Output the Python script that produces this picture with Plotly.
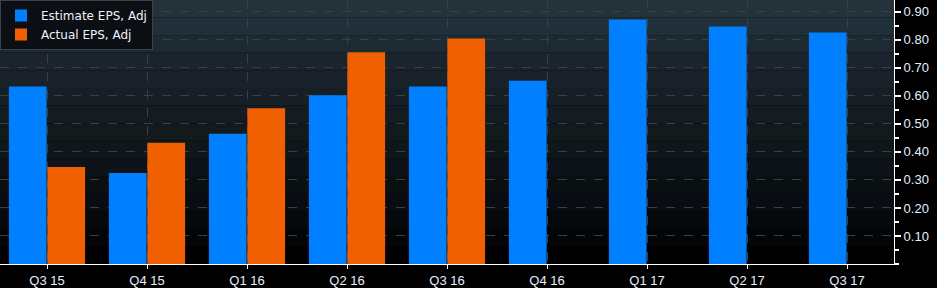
import plotly.graph_objects as go

quarters = ["Q3 15", "Q4 15", "Q1 16", "Q2 16", "Q3 16", "Q4 16", "Q1 17", "Q2 17", "Q3 17"]
estimate_eps = [0.633, 0.325, 0.465, 0.602, 0.633, 0.654, 0.872, 0.847, 0.826]
actual_eps = [0.346, 0.433, 0.556, 0.756, 0.805, None, None, None, None]
y_ticks = [0.1, 0.2, 0.3, 0.4, 0.5, 0.6, 0.7, 0.8, 0.9]

fig = go.Figure()
fig.add_trace(go.Bar(x=quarters, y=estimate_eps, name="Estimate EPS, Adj",
                     marker=dict(color="#0080ff", line=dict(width=0))))
fig.add_trace(go.Bar(x=quarters, y=actual_eps, name="Actual EPS, Adj",
                     marker=dict(color="#f06000", line=dict(width=0))))

# background gradient bands (top dark teal -> black)
band_colors = ["#24333b", "#20303a", "#1d2a33", "#1b232c", "#19222a", "#161f26",
               "#141b22", "#121a1c", "#10171a", "#0d1318", "#0a1012", "#090c12",
               "#05090c", "#030508", "#000000"]
n = len(band_colors)
shapes = []
for i, c in enumerate(band_colors):
    shapes.append(dict(type="rect", xref="paper", yref="paper", x0=0, x1=1,
                       y0=1 - (i + 1) / n, y1=1 - i / n, fillcolor=c,
                       line=dict(width=0), layer="below"))

fig.update_layout(
    width=937, height=288,
    margin=dict(l=0, r=43, t=0, b=20),
    paper_bgcolor="#000000",
    plot_bgcolor="#000000",
    barmode="group",
    bargap=0.23,
    bargroupgap=0.02,
    shapes=shapes,
    font=dict(family="Liberation Sans, Arial, sans-serif", size=13, color="#e6eeff"),
    legend=dict(x=0, y=1, xanchor="left", yanchor="top",
                bgcolor="#0b0e12", bordercolor="#3c4248", borderwidth=1,
                font=dict(family="DejaVu Sans, sans-serif", size=12, color="#eef2fa"),
                itemsizing="constant", tracegroupgap=0),
    showlegend=True,
)
fig.update_xaxes(
    type="category", range=[-0.47, 8.47],
    showline=True, linecolor="#ffffff", linewidth=1,
    ticks="outside", ticklen=4, tickcolor="#ffffff", tickwidth=1,
    showgrid=True, gridcolor="#3a3f46", griddash="dash", gridwidth=1,
    tickfont=dict(size=13, color="#e6eeff"),
    layer="below traces",
)
fig.update_yaxes(
    side="right", range=[0, 0.942],
    tickvals=y_ticks, ticktext=[f"{v:.2f}" for v in y_ticks],
    showline=True, linecolor="#ffffff", linewidth=1,
    ticks="outside", ticklen=6, tickwidth=2, tickcolor="#ffffff",
    minor=dict(dtick=0.05, tick0=0.05, ticks="outside", ticklen=4, tickcolor="#ffffff", showgrid=False),
    showgrid=True, gridcolor="#3a3f46", griddash="dash", gridwidth=1,
    zeroline=False,
    tickfont=dict(size=13, color="#e6eeff"),
)
fig.write_html("out.html")
